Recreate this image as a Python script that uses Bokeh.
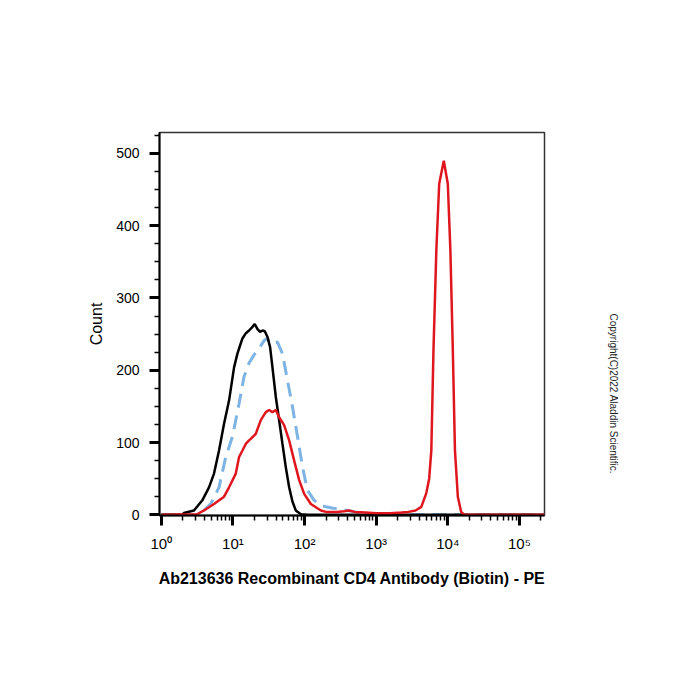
import numpy as np
from bokeh.plotting import figure
from bokeh.models import FixedTicker, Range1d, Title
from bokeh.embed import file_html
from bokeh.resources import INLINE

# ---- data (x = log10 of PE fluorescence intensity, y = count) ----
black_x = [0.0, 0.30, 0.316, 0.456, 0.573, 0.666, 0.736, 0.806, 0.876, 0.946, 1.016,
           1.063, 1.109, 1.133, 1.179, 1.225, 1.273, 1.305, 1.343, 1.379, 1.413, 1.445,
           1.483, 1.519, 1.552, 1.599, 1.645, 1.692, 1.738, 1.785, 1.832, 1.878, 1.948,
           2.05, 5.35]
black_y = [0, 0, 2.5, 6, 20, 38, 57, 89, 126, 158, 204,
           223, 237, 244, 251, 255, 260, 264, 257, 253, 255, 254,
           246, 232, 204, 163, 131, 98, 66, 38, 18, 6, 0.7,
           0, 0]

blue_x = [0.0, 0.50, 0.596, 0.69, 0.806, 0.90, 0.993, 1.086, 1.155, 1.225, 1.30,
          1.365, 1.435, 1.473, 1.529, 1.622, 1.692, 1.762, 1.832, 1.902, 1.972,
          2.04, 2.134, 2.228, 2.30, 2.40, 2.50, 2.60, 2.70, 2.85, 3.0, 3.2, 3.4, 5.35]
blue_y = [0, 0, 6, 15, 38, 80, 108, 154, 191, 210, 222,
          230, 241, 244, 237, 239, 223, 186, 149, 108, 66,
          34, 20, 13, 11, 9, 8, 6, 4, 2, 1, 0.5, 0, 0]

red_x = [0.0, 0.50, 0.596, 0.736, 0.876, 0.946, 1.04, 1.086, 1.133, 1.179, 1.225,
         1.249, 1.319, 1.389, 1.459, 1.505, 1.552, 1.599, 1.645, 1.715, 1.785,
         1.855, 1.925, 1.995, 2.088, 2.18, 2.228, 2.30, 2.45, 2.55, 2.62, 2.70,
         2.85, 3.0, 3.2, 3.35, 3.45, 3.55, 3.63, 3.70, 3.74, 3.77, 3.80, 3.84,
         3.88, 3.944, 4.0, 4.036, 4.07, 4.10, 4.14, 4.186, 4.23, 5.35]
red_y = [0, 0.7, 6, 15, 25, 38, 57, 80, 89, 98, 103,
         105, 112, 131, 142, 145, 142, 145, 135, 124, 103,
         75, 48, 29, 15, 9, 6, 4, 4, 5, 6, 4,
         3, 2, 2, 3, 4, 6, 11, 30, 50, 89, 228, 366,
         458, 490, 458, 366, 228, 89, 25, 4, 0, 0]

decades = [0, 1, 2, 3, 4, 5]
decade_labels = ["10\u2070", "10\u00b9", "10\u00b2", "10\u00b3", "10\u2074", "10\u2075"]
count_ticks = [0, 100, 200, 300, 400, 500]
count_minor = list(range(0, 530, 25))

FONT = "Liberation Sans"
W, H = 700, 700
BL, BR, BT, BB = 159, 156, 132, 185
X0, X1 = -0.025, 5.35

p = figure(width=W, height=H, output_backend="svg", toolbar_location=None,
           x_range=Range1d(X0, X1), y_range=Range1d(-1, 529),
           min_border_left=BL, min_border_right=BR,
           min_border_top=BT, min_border_bottom=BB)

p.background_fill_color = "white"
p.border_fill_color = "white"
p.xgrid.visible = False
p.ygrid.visible = False
p.outline_line_color = "#333333"
p.outline_line_width = 1.5

p.line(blue_x, blue_y, line_color="#7db4e4", line_width=3, line_dash="14 8")
p.line(black_x, black_y, line_color="black", line_width=2.5)
p.line(red_x, red_y, line_color="#e0161e", line_width=2.5)

minor_x = [k + np.log10(m) for k in range(6) for m in range(2, 10) if k + np.log10(m) < X1]

xa = p.xaxis[0]
xa.ticker = FixedTicker(ticks=decades, minor_ticks=minor_x)
xa.major_label_overrides = {d: lab for d, lab in zip(decades, decade_labels)}
xa.axis_line_width = 2
xa.axis_line_color = "black"
xa.major_tick_line_width = 3
xa.major_tick_out = 10
xa.major_tick_in = 0
xa.minor_tick_line_width = 1.5
xa.minor_tick_out = 5
xa.minor_tick_in = 0
xa.major_label_text_font = FONT
xa.major_label_text_font_size = "15px"
xa.major_label_text_color = "black"
xa.major_label_text_align = "left"
xa.major_label_standoff = 9
xa.axis_label = "Ab213636 Recombinant CD4 Antibody (Biotin) - PE"
xa.axis_label_text_font = FONT
xa.axis_label_text_font_size = "16px"
xa.axis_label_text_font_style = "bold"
xa.axis_label_text_color = "black"
xa.axis_label_standoff = 15

ya = p.yaxis[0]
ya.ticker = FixedTicker(ticks=count_ticks, minor_ticks=count_minor)
ya.axis_line_width = 2
ya.axis_line_color = "black"
ya.major_tick_line_width = 3
ya.major_tick_out = 10
ya.major_tick_in = 0
ya.minor_tick_line_width = 1.5
ya.minor_tick_out = 5
ya.minor_tick_in = 0
ya.major_label_text_font = FONT
ya.major_label_text_font_size = "14px"
ya.major_label_text_color = "black"
ya.major_label_standoff = 10
ya.axis_label = "Count"
ya.axis_label_text_font = FONT
ya.axis_label_text_font_size = "16px"
ya.axis_label_text_font_style = "normal"
ya.axis_label_text_color = "black"
ya.axis_label_standoff = 8

p.add_layout(Title(text="Copyright(C)2022 Aladdin Scientific.", align="left",
                   offset=181, standoff=127, text_font=FONT, text_font_size="10px",
                   text_font_style="normal", text_color="#222222"), "right")

open("out.html", "w").write(file_html(p, INLINE))
